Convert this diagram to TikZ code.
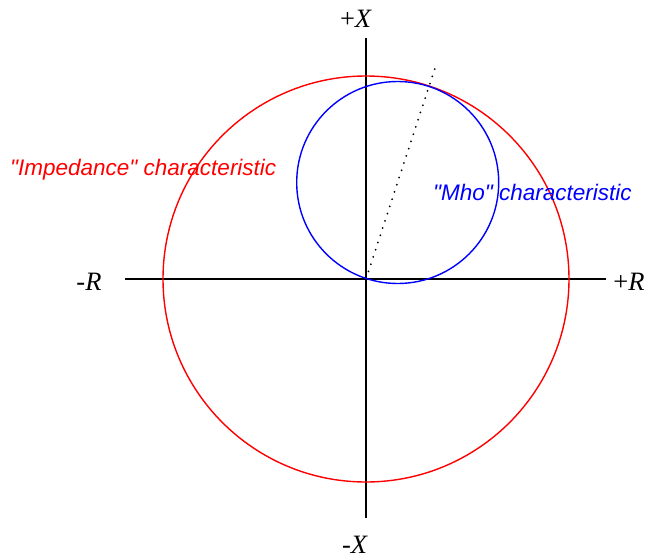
\documentclass[tikz,border=0pt]{standalone}
\usepackage{fontspec}
\setmainfont{Liberation Serif}
\newfontfamily\lsans{Liberation Sans}
\usetikzlibrary{calc}
\begin{document}
\begin{tikzpicture}[x=1pt,y=-1pt,
  axis/.style={line width=1.5pt,black},
  curve/.style={line width=1.4pt},
  axlabel/.style={font=\fontsize{26.5}{30}\selectfont, inner sep=0pt},
  chartext/.style={font=\lsans\itshape\fontsize{22.5}{26}\selectfont, inner sep=0pt, anchor=west}]
\useasboundingbox (0,0) rectangle (649,560);
\coordinate (O) at (366,279);
\coordinate (top) at (366,38);
\coordinate (bot) at (366,518);
\coordinate (left) at (125,279);
\coordinate (right) at (606,279);
\draw[axis] (top) -- (bot);
\draw[axis] (left) -- (right);
\node[axlabel] (px) at (356,19) {+\textit{X}};
\node[axlabel] (mx) at (355,545) {\textit{-X}};
\node[axlabel] (mr) at (89,282) {\textit{-R}};
\node[axlabel] (pr) at (629,282) {+\textit{R}};
\draw[curve,red] (O) circle[radius=203];
\coordinate (mc) at (397.7,182.5);
\draw[curve,blue] (mc) circle[radius=101];
\coordinate (de) at (437,62);
\coordinate (ds) at ($(O)!0.035!(de)$);
\draw[line width=2pt,line cap=round,dash pattern=on 0pt off 7.6pt] (ds) -- (de);
\node[chartext,red] (imp) at (10,170) {"Impedance" characteristic};
\node[chartext,blue] (mho) at (433,192) {"Mho" characteristic};
\end{tikzpicture}
\end{document}
